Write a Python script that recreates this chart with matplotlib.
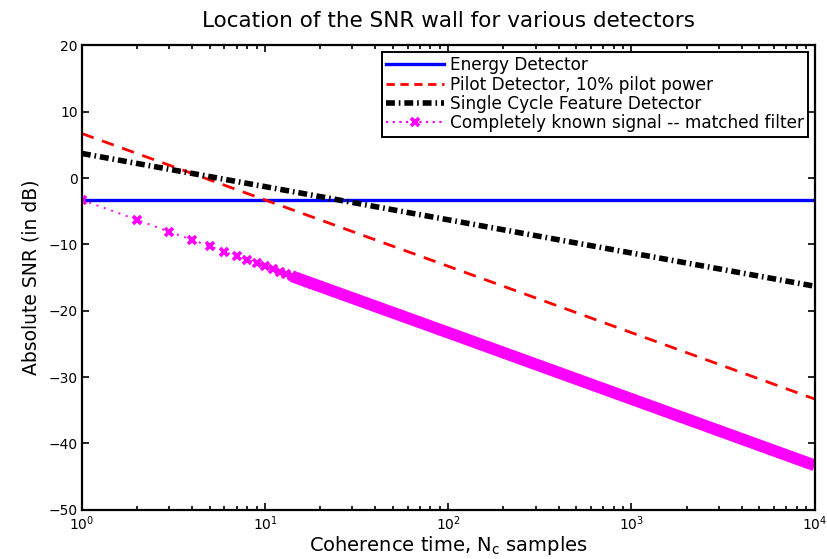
import matplotlib
matplotlib.use("Agg")
import matplotlib.pyplot as plt
from matplotlib.ticker import LogLocator, NullFormatter, FixedLocator
from matplotlib.lines import Line2D

plt.rcParams['font.family'] = ['DejaVu Sans']

# Coherence time (samples) at each decade
n_decades = [1, 10, 100, 1000, 10000]

# SNR wall (dB) for each detector at the decade points
energy_snr = [-3.3, -3.3, -3.3, -3.3, -3.3]
pilot_snr = [6.7, -3.3, -13.3, -23.3, -33.3]
cycle_snr = [3.7, -1.3, -6.3, -11.3, -16.3]

# Matched filter: individually visible sample markers at short coherence times
mf_n = [1, 2, 3, 4, 5, 6, 7, 8, 9, 10, 11, 12, 13, 14, 15, 16, 17, 18, 19, 20]
mf_snr = [-3.3, -6.3, -8.1, -9.3, -10.3, -11.1, -11.8, -12.3, -12.8, -13.3,
          -13.7, -14.1, -14.4, -14.8, -15.1, -15.3, -15.6, -15.9, -16.1, -16.3]
# Matched filter: densely packed samples beyond that
mf_dense_n = [14, 100, 1000, 10000]
mf_dense_snr = [-14.8, -23.3, -33.3, -43.3]

labels = ["Energy Detector",
          "Pilot Detector, 10% pilot power",
          "Single Cycle Feature Detector",
          "Completely known signal -- matched filter"]

fig = plt.figure(figsize=(8.27, 5.59), dpi=100)
ax = fig.add_axes([0.099, 0.088, 0.886, 0.831])

ax.plot(n_decades, energy_snr, color='#0000ff', lw=2.4, solid_capstyle='butt')
ax.plot(n_decades, pilot_snr, color='#ff0000', lw=2.0, dashes=(4.5, 3.2))
ax.plot(n_decades, cycle_snr, color='black', lw=4.0, dashes=(1.6, 0.7, 0.3, 0.7))
ax.plot(mf_n, mf_snr, color='#ff00ff', lw=1.4, ls=(0, (1, 3)),
        marker='x', ms=6, mew=2.6)
ax.plot(mf_dense_n, mf_dense_snr, color='#ff00ff', lw=8.5,
        solid_capstyle='butt')

ax.set_xscale('log')
ax.set_xlim(1, 1e4)
ax.set_ylim(-50, 20)
ax.yaxis.set_major_locator(FixedLocator(range(-50, 21, 10)))
ax.xaxis.set_major_locator(LogLocator(base=10, numticks=10))
ax.xaxis.set_minor_locator(LogLocator(base=10, subs=range(2, 10), numticks=50))
ax.xaxis.set_minor_formatter(NullFormatter())

ax.tick_params(which='both', direction='in', top=True, right=True,
               labelsize=10, width=1.2)
ax.tick_params(which='major', length=5, pad=3)
ax.tick_params(which='minor', length=3)
for sp in ax.spines.values():
    sp.set_linewidth(1.6)

ax.set_title("Location of the SNR wall for various detectors", fontsize=15.5, pad=13)
ax.set_xlabel(r"Coherence time, N$_\mathregular{c}$ samples", fontsize=14, labelpad=1)
ax.set_ylabel("Absolute SNR (in dB)", fontsize=13.5, labelpad=6)

handles = [
    Line2D([], [], color='#0000ff', lw=2.4),
    Line2D([], [], color='#ff0000', lw=2.0, dashes=(3, 2)),
    Line2D([], [], color='black', lw=4.0, dashes=(1.6, 0.7, 0.3, 0.7)),
    Line2D([], [], color='#ff00ff', lw=1.6, ls=(0, (1, 2)), marker='x',
           ms=6, mew=2.6, markevery=[1]),
]
leg = ax.legend(handles, labels, loc='upper right', fontsize=12.2,
                frameon=True, fancybox=False, edgecolor='black',
                borderpad=0.25, labelspacing=0.08, handlelength=3.4,
                handletextpad=0.35, borderaxespad=0.4)
leg.get_frame().set_linewidth(1.4)
leg.get_frame().set_alpha(1)

fig.savefig("out.png", dpi=100)
